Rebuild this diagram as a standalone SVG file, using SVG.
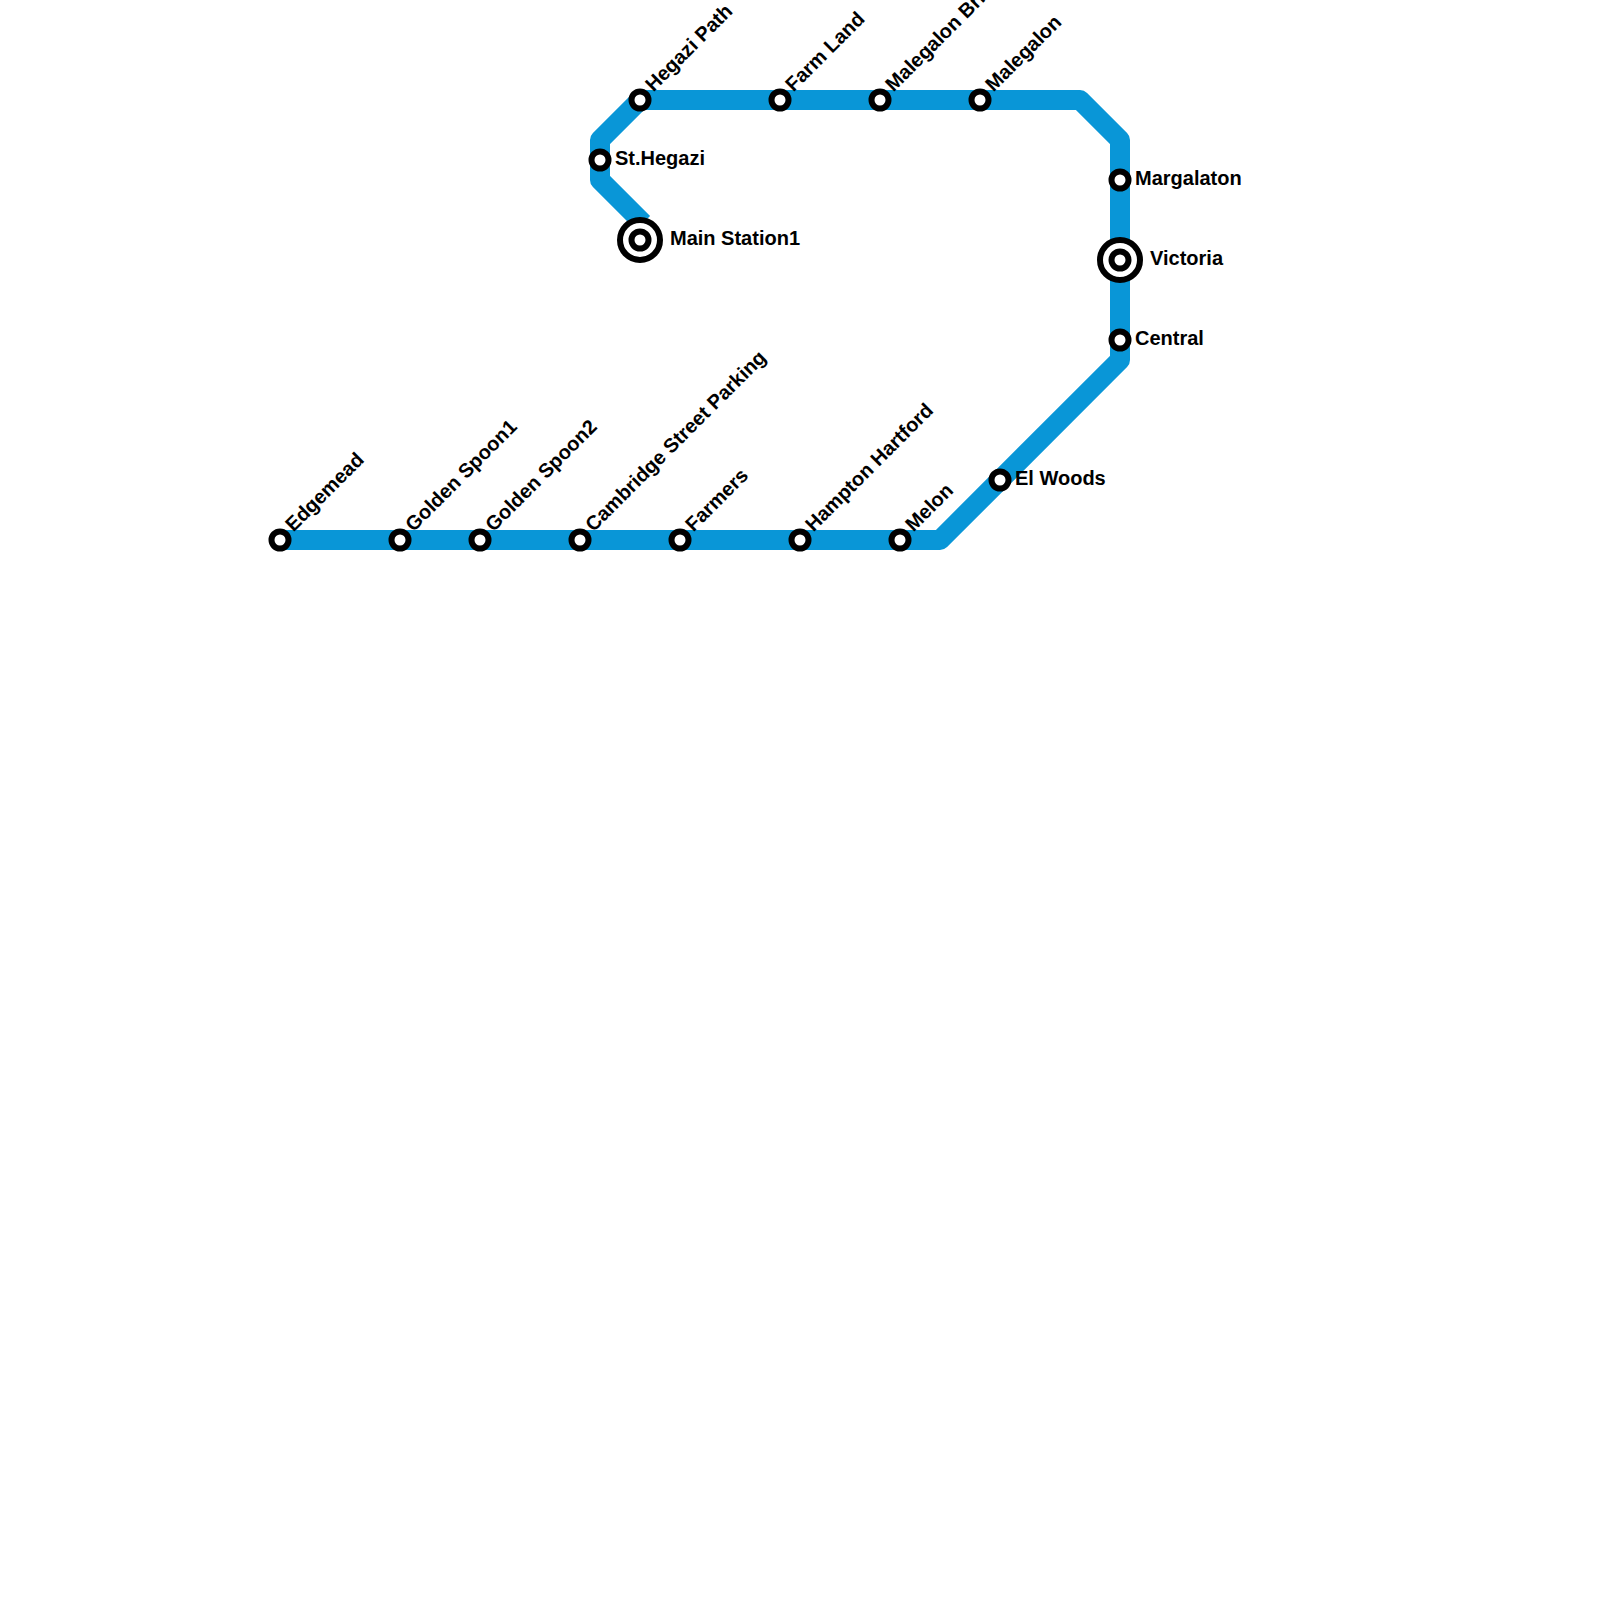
<svg xmlns="http://www.w3.org/2000/svg" width="1600" height="1600" viewBox="0 0 1600 1600">
<style>
.line{fill:none;stroke:#0996d7;stroke-width:20;stroke-linejoin:round}
.st{fill:#fff;stroke:#000;stroke-width:6}
.ring{fill:#fff;stroke:#000;stroke-width:6}
text{font-family:"Liberation Sans",Arial,sans-serif;font-weight:700;font-size:20px;fill:#000}
</style>
<rect width="1600" height="1600" fill="#fff"/>
<g id="connectors">
<path class="line" d="M280 540H940L1120 360V140L1080 100H640L600 140V180L643 223"/>
</g>
<g id="edgemead"><circle class="st" cx="280" cy="540" r="8.5"/><text transform="translate(293.5 532.5) rotate(-45)">Edgemead</text></g>
<g id="golden-spoon1"><circle class="st" cx="400" cy="540" r="8.5"/><text transform="translate(413.5 532.5) rotate(-45)">Golden Spoon1</text></g>
<g id="golden-spoon2"><circle class="st" cx="480" cy="540" r="8.5"/><text transform="translate(493.5 532.5) rotate(-45)">Golden Spoon2</text></g>
<g id="cambridge"><circle class="st" cx="580" cy="540" r="8.5"/><text transform="translate(593.5 532.5) rotate(-45)">Cambridge Street Parking</text></g>
<g id="farmers"><circle class="st" cx="680" cy="540" r="8.5"/><text transform="translate(693.5 532.5) rotate(-45)">Farmers</text></g>
<g id="hampton"><circle class="st" cx="800" cy="540" r="8.5"/><text transform="translate(813.5 532.5) rotate(-45)">Hampton Hartford</text></g>
<g id="melon"><circle class="st" cx="900" cy="540" r="8.5"/><text transform="translate(913.5 532.5) rotate(-45)">Melon</text></g>
<g id="el-woods"><circle class="st" cx="1000" cy="480" r="8.5"/><text x="1015" y="485">El Woods</text></g>
<g id="central"><circle class="st" cx="1120" cy="340" r="8.5"/><text x="1135" y="345">Central</text></g>
<g id="victoria"><circle class="ring" cx="1120" cy="260" r="20"/><circle class="st" cx="1120" cy="260" r="8.5"/><text x="1150" y="265">Victoria</text></g>
<g id="margalaton"><circle class="st" cx="1120" cy="180" r="8.5"/><text x="1135" y="185">Margalaton</text></g>
<g id="malegalon"><circle class="st" cx="980" cy="100" r="8.5"/><text transform="translate(993.5 92.5) rotate(-45)">Malegalon</text></g>
<g id="malegalon-bridge"><circle class="st" cx="880" cy="100" r="8.5"/><text transform="translate(893.5 92.5) rotate(-45)">Malegalon Bridge</text></g>
<g id="farm-land"><circle class="st" cx="780" cy="100" r="8.5"/><text transform="translate(793.5 92.5) rotate(-45)">Farm Land</text></g>
<g id="hegazi-path"><circle class="st" cx="640" cy="100" r="8.5"/><text transform="translate(653.5 92.5) rotate(-45)">Hegazi Path</text></g>
<g id="st-hegazi"><circle class="st" cx="600" cy="160" r="8.5"/><text x="615" y="165">St.Hegazi</text></g>
<g id="main-station1"><circle class="ring" cx="640" cy="240" r="20"/><circle class="st" cx="640" cy="240" r="8.5"/><text x="670" y="245">Main Station1</text></g>
</svg>
